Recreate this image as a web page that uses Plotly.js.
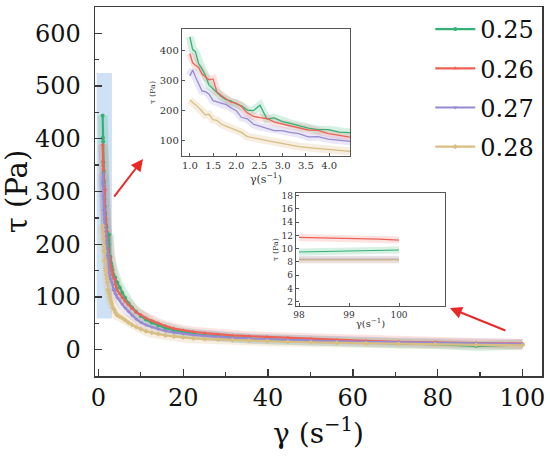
<!DOCTYPE html>
<html>
<head>
<meta charset="utf-8">
<script src="https://cdn.plot.ly/plotly-3.0.1.min.js"></script>
<style>html,body{margin:0;padding:0;background:#fff;}#chart{width:550px;height:464px;}</style>
</head>
<body>
<div id="chart"></div>
<script>
// ---- Data ----
const seriesNames = ["0.25", "0.26", "0.27", "0.28"];
const shearRate = [1.00,1.06,1.12,1.19,1.26,1.33,1.41,1.50,1.58,1.68,1.78,1.88,2.00,2.11,2.24,2.37,2.51,2.66,2.82,2.99,3.16,3.35,3.55,3.76,3.98,4.22,4.47,
  5.0,5.6,6.3,7.1,7.9,8.9,10,11.2,12.6,14.1,15.8,17.8,20,22.4,25.1,28.2,31.6,35.5,39.8,44.7,50.1,56.2,63.1,70.8,79.4,89.1,100];
const stress025 = [444,402,395,355,338,318,285,272,258,246,236,232,222,216,202,200,218,172,176,164,158,151,142,137,137,129,127,
  118,108,98,88,80,72,64,57,51,46,41,37,33,30,27,25,23,21,19.5,18,16.5,15,13.5,12,10.5,7,9.7];
const stress026 = [389,358,350,343,322,312,302,305,262,250,238,228,225,214,192,181,177,174,162,156,151,143,136,135,124,118,112,
  106,99,92,85,78,71,66,60,55,50,45,40,37,34,31.5,29,27,25.5,24,22.5,20.5,18,16.5,15,14,12.5,11.3];
const stress027 = [315,334,312,290,265,263,255,233,229,226,220,210,200,178,173,155,147,141,134,134,128,124,113,114,106,103,98,
  93,86,79,72,65,58,52,47,43,39,35.5,32.5,30,28,26,24,22.5,21,19.5,18,17,15.5,14.5,13.5,12.5,11.5,10.5];
const stress028 = [235,228,220,210,198,186,188,170,168,155,149,142,135,128,114,111,106,101,96,92,87,81,78,75,71,68,65,
  63,60,56,51,47,43,39,35,32,29.5,27,25,23,21.5,20,19,18,17,16,15,14,13,12,11,10,9,8.3];
// high shear-rate inset
const shearRateHigh = [98.0,98.4,98.8,99.2,99.6,100.0];
const high025 = [9.5,9.55,9.6,9.65,9.7,9.8];
const high026 = [11.7,11.65,11.6,11.55,11.45,11.3];
const high027 = [8.4,8.4,8.4,8.45,8.4,8.4];
const high028 = [8.3,8.3,8.32,8.3,8.3,8.3];
// low shear-rate inset range
const lowShearMax = 4.47;

// ---- Styles ----
const colors = ["rgb(52,178,118)", "rgb(238,98,86)", "rgb(150,138,210)", "rgb(216,190,130)"];
const glowColors = ["rgba(52,178,118,0.20)", "rgba(238,98,86,0.18)", "rgba(150,138,210,0.20)", "rgba(216,190,130,0.24)"];
const symbols = ["circle", "triangle-up", "triangle-down", "diamond"];
const serif = "DejaVu Serif";

const mainY = [stress025, stress026, stress027, stress028];
const highY = [high025, high026, high027, high028];
const lowIdx = shearRate.map((v, i) => i).filter(i => shearRate[i] <= lowShearMax);
const lowX = lowIdx.map(i => shearRate[i]);

const traces = [];
mainY.forEach((ys, k) => traces.push({x: shearRate, y: ys, mode: "lines", line: {color: glowColors[k], width: 10},
  showlegend: false, hoverinfo: "skip", xaxis: "x", yaxis: "y"}));
mainY.forEach((ys, k) => traces.push({x: shearRate, y: ys, name: seriesNames[k], legendgroup: "g" + k, mode: "lines+markers",
  line: {color: colors[k], width: 2.2}, marker: {color: colors[k], size: 4, symbol: symbols[k]},
  xaxis: "x", yaxis: "y"}));
mainY.forEach((ys, k) => traces.push({x: lowX, y: lowIdx.map(i => ys[i]), mode: "lines",
  line: {color: glowColors[k], width: 8}, showlegend: false, hoverinfo: "skip", xaxis: "x2", yaxis: "y2"}));
mainY.forEach((ys, k) => traces.push({x: lowX, y: lowIdx.map(i => ys[i]), mode: "lines",
  line: {color: colors[k], width: 1.3}, showlegend: false, xaxis: "x2", yaxis: "y2"}));
[2, 3, 0, 1].forEach(k => traces.push({x: shearRateHigh, y: highY[k], mode: "lines",
  line: {color: glowColors[k], width: 7}, showlegend: false, hoverinfo: "skip", xaxis: "x3", yaxis: "y3"}));
[2, 3, 0, 1].forEach(k => traces.push({x: shearRateHigh, y: highY[k], mode: "lines",
  line: {color: colors[k], width: 1.2}, showlegend: false, xaxis: "x3", yaxis: "y3"}));

const axLine = "#3a3a3a";
const insetAxis = (extra) => Object.assign({
  showline: true, mirror: true, linecolor: "#555", linewidth: 1.2, ticks: "inside", ticklen: 3,
  tickcolor: "#555", showgrid: false, zeroline: false, tickfont: {family: serif, size: 10, color: "#333"}
}, extra);

const layout = {
  width: 550, height: 464,
  margin: {l: 95, r: 8, t: 7, b: 88},
  paper_bgcolor: "#fff", plot_bgcolor: "#fff",
  font: {family: serif, color: "#111"},
  showlegend: true,
  legend: {x: 0.75, y: 1.0, xanchor: "left", yanchor: "top", bgcolor: "rgba(0,0,0,0)", traceorder: "grouped",
    font: {family: serif, size: 24, color: "#111"}, itemwidth: 40, tracegroupgap: 5},
  xaxis: {domain: [0, 1], range: [-0.8, 104.6], tickmode: "linear", tick0: 0, dtick: 20,
    showline: true, mirror: true, linecolor: axLine, linewidth: 1.5,
    ticks: "inside", ticklen: 7, tickwidth: 1.3, tickcolor: axLine,
    minor: {dtick: 10, ticks: "inside", ticklen: 4, tickcolor: axLine},
    showgrid: false, zeroline: false,
    tickfont: {family: serif, size: 24, color: "#111"},
    title: {text: "γ (s<sup>−1</sup>)", font: {family: serif, size: 28, color: "#111"}, standoff: 12}},
  yaxis: {domain: [0, 1], range: [-50, 650], tickmode: "linear", tick0: 0, dtick: 100,
    showline: true, mirror: true, linecolor: axLine, linewidth: 1.5,
    ticks: "inside", ticklen: 7, tickwidth: 1.3, tickcolor: axLine,
    minor: {dtick: 50, ticks: "inside", ticklen: 4, tickcolor: axLine},
    showgrid: false, zeroline: false, ticklabelstandoff: 8,
    tickfont: {family: serif, size: 24, color: "#111"},
    title: {text: "τ (Pa)", font: {family: serif, size: 29, color: "#111"}, standoff: 8}},
  xaxis2: insetAxis({domain: [0.1946, 0.5705], anchor: "y2", range: [0.83, 4.45], tickmode: "linear", tick0: 1, dtick: 0.5,
    tickformat: ".1f", title: {text: "γ(s<sup>−1</sup>)", font: {family: serif, size: 11, color: "#333"}, standoff: 2}}),
  yaxis2: insetAxis({domain: [0.5962, 0.9404], anchor: "x2", range: [50, 470], tickmode: "linear", tick0: 100, dtick: 100,
    title: {text: "τ (Pa)", font: {family: serif, size: 8, color: "#333"}, standoff: 2}}),
  xaxis3: insetAxis({domain: [0.4497, 0.783], anchor: "y3", range: [97.94, 100.92], tickmode: "linear", tick0: 98, dtick: 1,
    tickfont: {family: serif, size: 9, color: "#333"},
    title: {text: "γ(s<sup>−1</sup>)", font: {family: serif, size: 10, color: "#333"}, standoff: 1}}),
  yaxis3: insetAxis({domain: [0.1897, 0.4959], anchor: "x3", range: [1.35, 18.4], tickmode: "linear", tick0: 2, dtick: 2,
    tickfont: {family: serif, size: 9, color: "#333"},
    title: {text: "τ (Pa)", font: {family: serif, size: 8, color: "#333"}, standoff: 1}}),
  shapes: [
    {type: "rect", xref: "x", yref: "y", x0: -0.4, x1: 3.2, y0: 59, y1: 525,
     fillcolor: "rgba(160,198,236,0.5)", line: {width: 0}, layer: "below"}
  ],
  annotations: [
    {xref: "paper", yref: "paper", x: 0.1074, y: 0.588, ax: -30, ay: 39, showarrow: true,
     arrowhead: 2, arrowsize: 1.2, arrowwidth: 2, arrowcolor: "rgb(235,40,40)", text: ""},
    {xref: "paper", yref: "paper", x: 0.794, y: 0.184, ax: 57, ay: 23, showarrow: true,
     arrowhead: 2, arrowsize: 1.2, arrowwidth: 2, arrowcolor: "rgb(235,40,40)", text: ""}
  ]
};

Plotly.newPlot("chart", traces, layout, {staticPlot: true, displayModeBar: false});
</script>
</body>
</html>
